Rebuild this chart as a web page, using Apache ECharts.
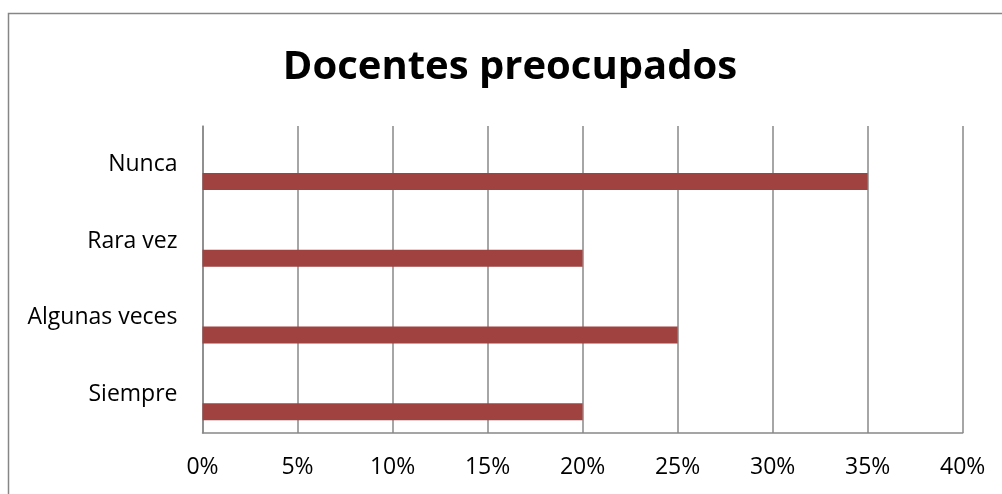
<!DOCTYPE html>
<html>
<head>
<meta charset="utf-8">
<script src="https://cdn.jsdelivr.net/npm/echarts@6/dist/echarts.min.js"></script>
<style>html,body{margin:0;padding:0;background:#fff}#c{width:1002px;height:494px}</style>
</head>
<body>
<div id="c"></div>
<script>
var titleText = 'Docentes preocupados';
var categories = ['Nunca', 'Rara vez', 'Algunas veces', 'Siempre'];
var values = [35, 20, 25, 20];
var xTicks = {min: 0, max: 40, interval: 5};

var chart = echarts.init(document.getElementById('c'), null, {renderer: 'canvas'});
var gridColor = '#888888';
var font = '"Open Sans", sans-serif';
chart.setOption({
  animation: false,
  backgroundColor: '#fff',
  title: {
    text: titleText,
    left: 510,
    textAlign: 'center',
    top: 48,
    padding: 0,
    textStyle: {fontFamily: font, fontWeight: 'bold', fontSize: 40, color: '#000'}
  },
  graphic: [{
    type: 'rect', silent: true, z: -1,
    shape: {x: 8.5, y: 13.5, width: 1100, height: 600},
    style: {fill: 'none', stroke: '#868686', lineWidth: 1.5}
  }],
  grid: {left: 202.5, right: 39.3, top: 126, bottom: 61, containLabel: false},
  xAxis: {
    type: 'value', min: xTicks.min, max: xTicks.max, interval: xTicks.interval,
    axisLine: {show: true, lineStyle: {color: gridColor, width: 1.5}},
    axisTick: {show: false},
    splitLine: {show: true, lineStyle: {color: gridColor, width: 1.5}},
    axisLabel: {formatter: '{value}%', color: '#000', fontFamily: font, fontSize: 23, margin: 23}
  },
  yAxis: {
    type: 'category', data: categories, inverse: true,
    axisLine: {show: true, lineStyle: {color: gridColor, width: 1.5}},
    axisTick: {show: false},
    splitLine: {show: false},
    axisLabel: {color: '#000', fontFamily: font, fontSize: 23, margin: 25}
  },
  series: [
    {type: 'bar', name: 'pad1', data: [], barWidth: 17, barGap: '0%', silent: true},
    {type: 'bar', name: 'pad2', data: [], barWidth: 17, barGap: '0%', silent: true},
    {type: 'bar', name: 'Docentes preocupados', data: values, barWidth: 17, barGap: '0%',
     itemStyle: {color: '#9F4240'}}
  ]
});
</script>
</body>
</html>
